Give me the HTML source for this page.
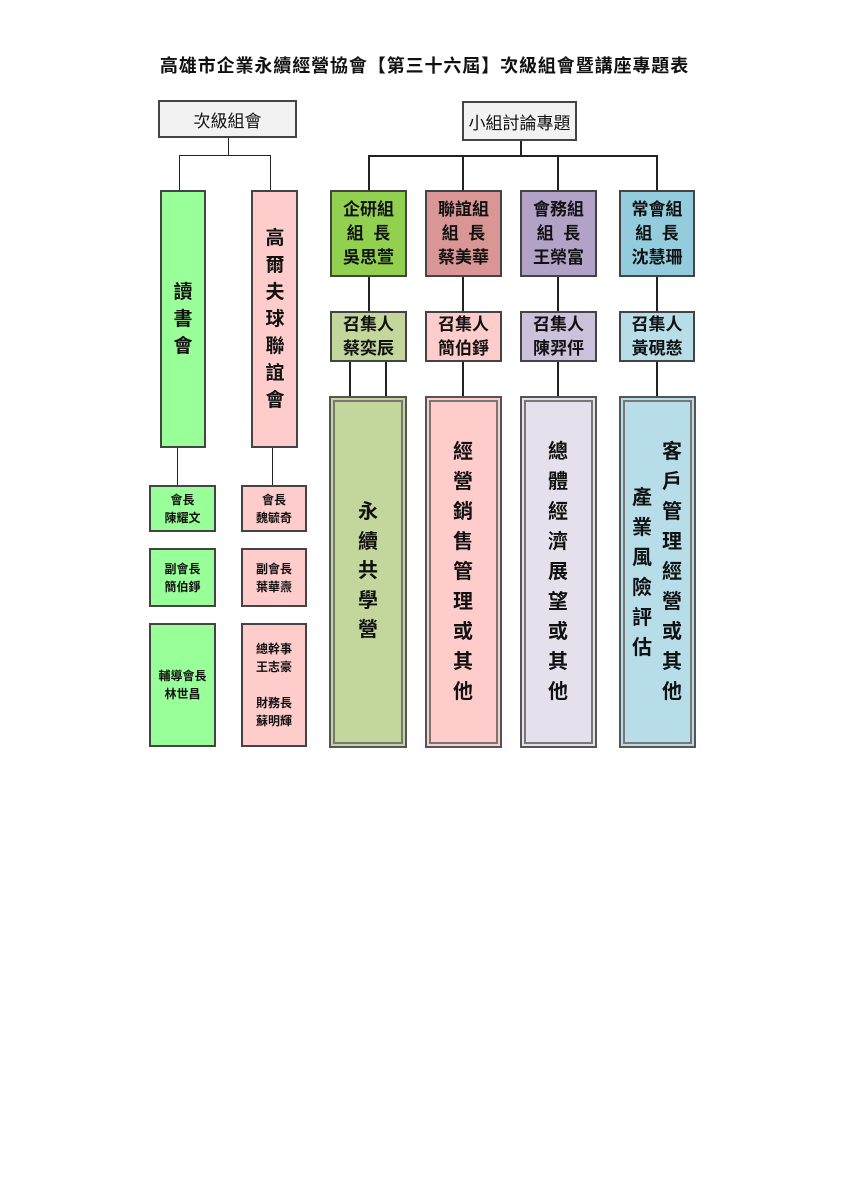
<!DOCTYPE html>
<html><head><meta charset="utf-8"><style>
body{margin:0;background:#fff;}
#p{position:relative;width:849px;height:1200px;overflow:hidden;font-family:"Liberation Sans","Noto Sans CJK TC","Noto Sans CJK SC",sans-serif;color:#111;}
.b{position:absolute;box-sizing:border-box;border:2px solid #444;display:flex;flex-direction:column;align-items:center;justify-content:center;text-align:center;}
.l{position:absolute;background:#222;}
.v{position:absolute;font-weight:bold;text-align:center;width:30px;}
.g{font-size:17px;font-weight:bold;line-height:24px;}
.s{font-size:12px;font-weight:bold;line-height:18px;}
.dbl{position:absolute;box-sizing:border-box;border:2px solid #555;outline:2px solid #777;outline-offset:-6px;}
</style></head><body><div id="p">
<div style="position:absolute;left:0;width:849px;top:52px;text-align:center;font-size:18px;letter-spacing:0.9px;font-weight:bold;">高雄市企業永續經營協會【第三十六屆】次級組會暨講座專題表</div>

<div class="b" style="left:158px;top:100px;width:139px;height:38px;background:#f2f2f2;font-size:17px;">次級組會</div>
<div class="b" style="left:462px;top:101px;width:115px;height:40px;background:#f2f2f2;font-size:17px;">小組討論專題</div>

<div class="l" style="left:228px;top:138px;width:1px;height:17px;"></div>
<div class="l" style="left:179px;top:155px;width:91px;height:1px;"></div>
<div class="l" style="left:179px;top:155px;width:1px;height:36px;"></div>
<div class="l" style="left:270px;top:155px;width:1px;height:36px;"></div>
<div class="l" style="left:177px;top:447px;width:1px;height:39px;"></div>
<div class="l" style="left:272px;top:447px;width:1px;height:39px;"></div>

<div class="l" style="left:520px;top:141px;width:2px;height:16px;"></div>
<div class="l" style="left:368px;top:155px;width:290px;height:2px;"></div>
<div class="l" style="left:368px;top:155px;width:2px;height:36px;"></div>
<div class="l" style="left:462px;top:155px;width:2px;height:36px;"></div>
<div class="l" style="left:557px;top:155px;width:2px;height:36px;"></div>
<div class="l" style="left:656px;top:155px;width:2px;height:36px;"></div>
<div class="l" style="left:368px;top:276px;width:2px;height:36px;"></div>
<div class="l" style="left:462px;top:276px;width:2px;height:36px;"></div>
<div class="l" style="left:557px;top:276px;width:2px;height:36px;"></div>
<div class="l" style="left:656px;top:276px;width:2px;height:36px;"></div>
<div class="l" style="left:349px;top:361px;width:2px;height:36px;"></div>
<div class="l" style="left:385px;top:361px;width:2px;height:36px;"></div>
<div class="l" style="left:462px;top:361px;width:2px;height:36px;"></div>
<div class="l" style="left:557px;top:361px;width:2px;height:36px;"></div>
<div class="l" style="left:656px;top:361px;width:2px;height:36px;"></div>

<div class="b" style="left:160px;top:190px;width:46px;height:258px;background:#99ff99;"></div>
<div class="v" style="left:168px;top:279px;font-size:19px;line-height:27px;">讀<br>書<br>會</div>
<div class="b" style="left:251px;top:190px;width:47px;height:258px;background:#ffcccc;"></div>
<div class="v" style="left:260px;top:225px;font-size:19px;line-height:27px;">高<br>爾<br>夫<br>球<br>聯<br>誼<br>會</div>

<div class="b g" style="left:330px;top:190px;width:77px;height:87px;background:#92d050;">企研組<br>組&nbsp;&nbsp;長<br>吳思萱</div>
<div class="b g" style="left:425px;top:190px;width:77px;height:87px;background:#d99694;">聯誼組<br>組&nbsp;&nbsp;長<br>蔡美華</div>
<div class="b g" style="left:520px;top:190px;width:77px;height:87px;background:#b3a2c7;">會務組<br>組&nbsp;&nbsp;長<br>王榮富</div>
<div class="b g" style="left:619px;top:190px;width:76px;height:87px;background:#93cddd;">常會組<br>組&nbsp;&nbsp;長<br>沈慧珊</div>

<div class="b g" style="left:330px;top:311px;width:77px;height:51px;background:#c3d69b;">召集人<br>蔡奕辰</div>
<div class="b g" style="left:425px;top:311px;width:77px;height:51px;background:#ffcccc;">召集人<br>簡伯錚</div>
<div class="b g" style="left:520px;top:311px;width:77px;height:51px;background:#ccc1da;">召集人<br>陳羿伻</div>
<div class="b g" style="left:619px;top:311px;width:76px;height:51px;background:#b7dee8;">召集人<br>黃硯慈</div>

<div class="dbl" style="left:329px;top:396px;width:78px;height:352px;background:#c3d69b;"></div>
<div class="v" style="left:353px;top:498px;font-size:20px;line-height:29.5px;">永<br>續<br>共<br>學<br>營</div>
<div class="dbl" style="left:425px;top:396px;width:77px;height:352px;background:#ffcccc;"></div>
<div class="v" style="left:448px;top:437px;font-size:20px;line-height:30px;">經<br>營<br>銷<br>售<br>管<br>理<br>或<br>其<br>他</div>
<div class="dbl" style="left:520px;top:396px;width:77px;height:352px;background:#e6e0ec;"></div>
<div class="v" style="left:543px;top:437px;font-size:20px;line-height:30px;">總<br>體<br>經<br>濟<br>展<br>望<br>或<br>其<br>他</div>
<div class="dbl" style="left:619px;top:396px;width:77px;height:352px;background:#b7dee8;"></div>
<div class="v" style="left:657px;top:437px;font-size:20px;line-height:30px;">客<br>戶<br>管<br>理<br>經<br>營<br>或<br>其<br>他</div>
<div class="v" style="left:627px;top:483px;font-size:20px;line-height:30px;">產<br>業<br>風<br>險<br>評<br>估</div>

<div class="b s" style="left:149px;top:485px;width:67px;height:47px;background:#99ff99;">會長<br>陳耀文</div>
<div class="b s" style="left:149px;top:548px;width:67px;height:59px;background:#99ff99;">副會長<br>簡伯錚</div>
<div class="b s" style="left:149px;top:623px;width:67px;height:124px;background:#99ff99;">輔導會長<br>林世昌</div>
<div class="b s" style="left:241px;top:485px;width:66px;height:47px;background:#ffcccc;">會長<br>魏毓奇</div>
<div class="b s" style="left:241px;top:548px;width:66px;height:59px;background:#ffcccc;">副會長<br>葉華燾</div>
<div class="b s" style="left:241px;top:623px;width:66px;height:124px;background:#ffcccc;">總幹事<br>王志豪<br><br>財務長<br>蘇明輝</div>
</div></body></html>
